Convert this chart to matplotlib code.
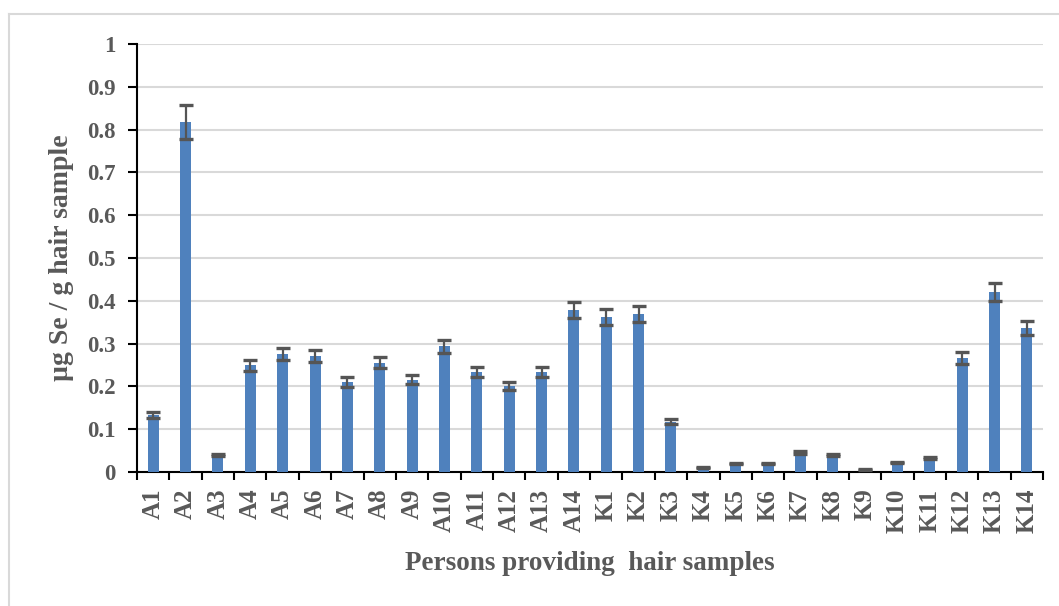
import numpy as np
import matplotlib.pyplot as plt
from matplotlib.lines import Line2D

samples = ['A1', 'A2', 'A3', 'A4', 'A5', 'A6', 'A7', 'A8', 'A9', 'A10', 'A11', 'A12', 'A13', 'A14',
           'K1', 'K2', 'K3', 'K4', 'K5', 'K6', 'K7', 'K8', 'K9', 'K10', 'K11', 'K12', 'K13', 'K14']
se_mean = [0.134, 0.817, 0.040, 0.249, 0.275, 0.272, 0.210, 0.255, 0.216, 0.294, 0.233, 0.201, 0.233, 0.379,
           0.362, 0.370, 0.118, 0.011, 0.020, 0.020, 0.045, 0.040, 0.006, 0.023, 0.032, 0.266, 0.420, 0.336]
se_err = [0.007, 0.040, 0.002, 0.013, 0.014, 0.014, 0.011, 0.013, 0.011, 0.015, 0.012, 0.010, 0.012, 0.019,
          0.018, 0.019, 0.006, 0.001, 0.001, 0.001, 0.003, 0.002, 0.001, 0.001, 0.002, 0.014, 0.021, 0.016]

plt.rcParams['font.family'] = ['Liberation Serif', 'DejaVu Serif']
plt.rcParams['font.weight'] = 'bold'
txt_col = '#595959'

fig = plt.figure(figsize=(10.59, 6.06), dpi=100)
ax = fig.add_axes([0.1294, 0.2211, 0.8556, 0.7063])

x = np.arange(len(samples))
ax.bar(x, se_mean, width=0.34, color='#4F81BD', zorder=3)
ax.errorbar(x, se_mean, yerr=se_err, fmt='none', ecolor='#555555', elinewidth=1.6,
            capsize=4.7, capthick=2.4, zorder=4)

ax.set_xlim(-0.5, len(samples) - 0.5)
ax.set_ylim(0, 1)
ax.set_yticks(np.arange(0, 1.01, 0.1))
ax.set_yticklabels(['0', '0.1', '0.2', '0.3', '0.4', '0.5', '0.6', '0.7', '0.8', '0.9', '1'])
ax.yaxis.grid(True, color='#D9D9D9', linewidth=1.5, zorder=0)
ax.set_axisbelow(True)

ax.set_xticks(x)
ax.set_xticklabels(samples, rotation=90)
ax.set_xticks(np.arange(-0.5, len(samples), 1), minor=True)
ax.tick_params(axis='x', which='major', length=0, pad=12, labelsize=18, labelcolor=txt_col)
ax.tick_params(axis='x', which='minor', length=5.5, width=1.5, direction='out', color='black')
ax.tick_params(axis='y', length=6.5, width=1.5, direction='out', color='black', pad=9,
               labelsize=16.5, labelcolor=txt_col)

for s in ['top', 'right']:
    ax.spines[s].set_visible(False)
for s in ['left', 'bottom']:
    ax.spines[s].set_linewidth(1.5)
    ax.spines[s].set_color('black')

ax.set_xlabel('Persons providing  hair samples', fontsize=19.5, fontweight='bold', color=txt_col, va='center')
ax.set_ylabel('µg Se / g hair sample', fontsize=20, fontweight='bold', color=txt_col, va='center')
ax.xaxis.set_label_coords(0.5, -0.213)
ax.yaxis.set_label_coords(-0.083, 0.5)

# chart area border (left and top edges visible)
fig.add_artist(Line2D([9 / 1059, 9 / 1059], [0, 1 - 14 / 606], transform=fig.transFigure,
                      color='#D9D9D9', linewidth=1.5))
fig.add_artist(Line2D([9 / 1059, 1], [1 - 14 / 606, 1 - 14 / 606], transform=fig.transFigure,
                      color='#D9D9D9', linewidth=1.5))

fig.savefig('out.png', dpi=100)
